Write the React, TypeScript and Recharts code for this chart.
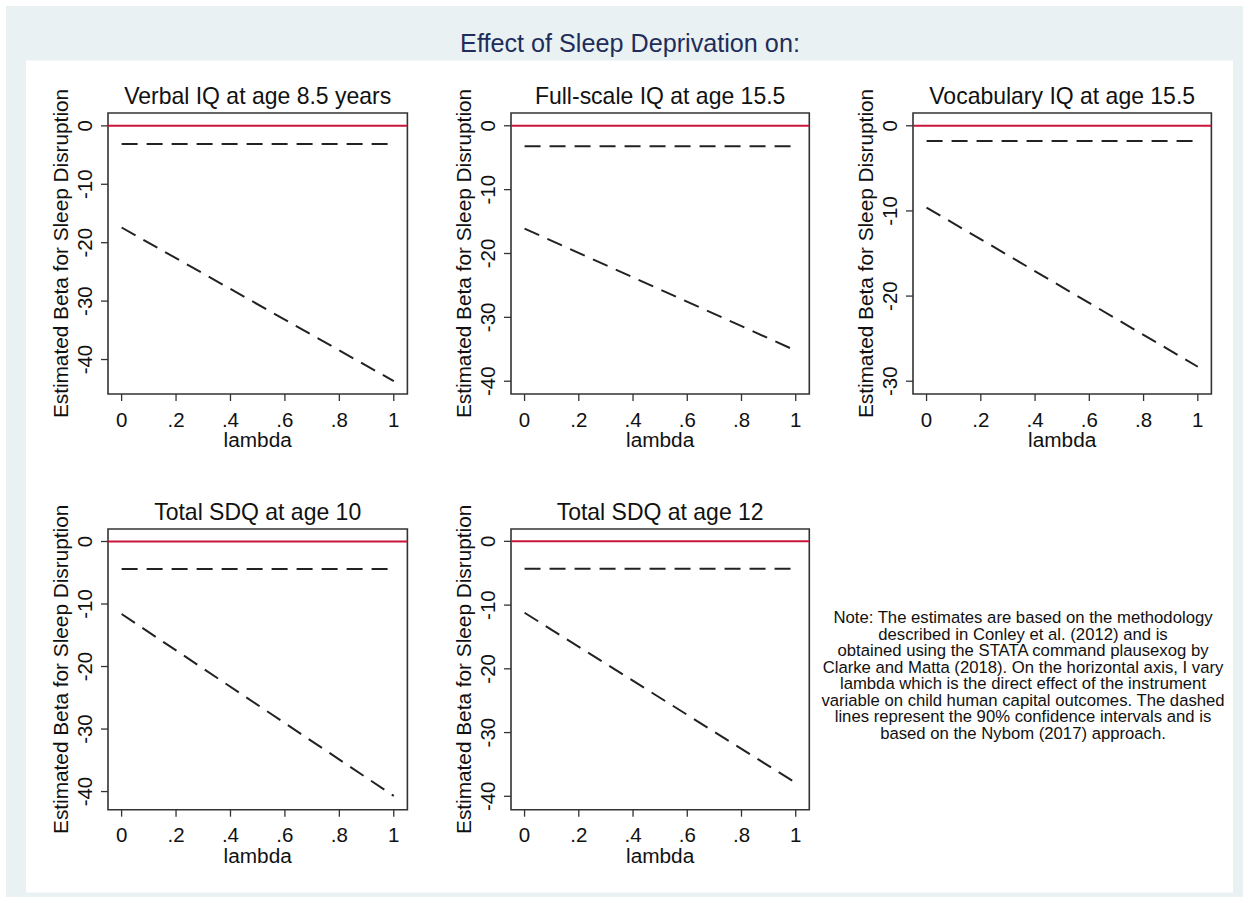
import React from "react";
import { LineChart, Line, XAxis, YAxis, ReferenceLine, ReferenceArea, Label } from "recharts";

const LAMBDA = [0, 1];
const X_TICKS = [0, 0.2, 0.4, 0.6, 0.8, 1];
const X_TICK_LABELS = ["0", ".2", ".4", ".6", ".8", "1"];
const Y_TICKS_40 = [-40, -30, -20, -10, 0];
const Y_TICKS_30 = [-30, -20, -10, 0];

const TITLES = [
  "Verbal IQ at age 8.5 years",
  "Full-scale IQ at age 15.5",
  "Vocabulary IQ at age 15.5",
  "Total SDQ at age 10",
  "Total SDQ at age 12",
];

const UPPER_VERBAL = [-3.1, -3.1];
const LOWER_VERBAL = [-17.4, -43.7];
const UPPER_FULL = [-3.2, -3.2];
const LOWER_FULL = [-16.1, -35.2];
const UPPER_VOCAB = [-1.8, -1.8];
const LOWER_VOCAB = [-9.6, -28.3];
const UPPER_SDQ10 = [-4.4, -4.4];
const LOWER_SDQ10 = [-11.6, -40.7];
const UPPER_SDQ12 = [-4.3, -4.3];
const LOWER_SDQ12 = [-11.2, -37.9];

const NOTE_LINES = [
  "Note: The estimates are based on the methodology",
  "described in Conley et al. (2012) and is",
  "obtained using the STATA command plausexog by",
  "Clarke and Matta (2018). On the horizontal axis, I vary",
  "lambda which is the direct effect of the instrument",
  "variable on child human capital outcomes. The dashed",
  "lines represent the 90% confidence intervals and is",
  "based on the Nybom (2017) approach.",
];

const MAIN_TITLE = "Effect of Sleep Deprivation on:";
const Y_TITLE = "Estimated Beta for Sleep Disruption";
const X_TITLE = "lambda";

const FONT = "'Liberation Sans', Arial, Helvetica, sans-serif";
const X_DOMAIN: [number, number] = [-0.05, 1.05];
const RED = "#c8153a";
const DARK = "#333333";
const LINE_DARK = "#222222";

const YW = 60;
const MT = 40;
const MR = 10;
const XH = 60;
const MB = 5;

function makeData(upper: number[], lower: number[]) {
  return LAMBDA.map((l, i) => ({ lambda: l, upper: upper[i], lower: lower[i] }));
}

const YTick = (props: any) => {
  const { x, y, payload } = props;
  return (
    <text
      x={x}
      y={y}
      transform={`rotate(-90 ${x} ${y})`}
      textAnchor="middle"
      fontSize={20.5}
      fill="#111"
      fontFamily={FONT}
    >
      {String(payload.value)}
    </text>
  );
};

type PanelProps = {
  title: string;
  data: any[];
  yDomain: [number, number];
  yTicks: number[];
  plotLeft: number;
  plotTop: number;
  plotW: number;
  plotH: number;
};

function Panel({ title, data, yDomain, yTicks, plotLeft, plotTop, plotW, plotH }: PanelProps) {
  return (
    <div style={{ position: "absolute", left: plotLeft - YW, top: plotTop - MT }}>
      <LineChart
        width={YW + plotW + MR}
        height={MT + plotH + XH + MB}
        data={data}
        margin={{ top: MT, right: MR, bottom: MB, left: 0 }}
        style={{ overflow: "visible" }}
      >
        <XAxis
          dataKey="lambda"
          type="number"
          domain={X_DOMAIN}
          ticks={X_TICKS}
          tickFormatter={(v: number) => X_TICK_LABELS[X_TICKS.indexOf(v)] ?? String(v)}
          height={XH}
          tickSize={7}
          tickMargin={11}
          axisLine={false}
          tickLine={{ stroke: DARK, strokeWidth: 1.3 }}
          tick={{ fill: "#111", fontSize: 20.5, fontFamily: FONT }}
          allowDataOverflow
          interval={0}
          label={
            <Label
              content={(p: any) => {
                const vb = p.viewBox || {};
                return (
                  <text
                    x={vb.x + vb.width / 2}
                    y={vb.y + 53.5}
                    textAnchor="middle"
                    fontSize={20.8}
                    fill="#111"
                    fontFamily={FONT}
                  >
                    {X_TITLE}
                  </text>
                );
              }}
            />
          }
        />
        <YAxis
          type="number"
          domain={yDomain}
          ticks={yTicks}
          width={YW}
          tickSize={7}
          tickMargin={9}
          axisLine={false}
          tickLine={{ stroke: DARK, strokeWidth: 1.3 }}
          tick={<YTick />}
          allowDataOverflow
          interval={0}
          label={
            <Label
              content={(p: any) => {
                const vb = p.viewBox || {};
                const x = vb.x + vb.width - 40.3;
                const y = vb.y + vb.height / 2;
                return (
                  <text
                    x={x}
                    y={y}
                    transform={`rotate(-90 ${x} ${y})`}
                    textAnchor="middle"
                    fontSize={20.8}
                    fill="#111"
                    fontFamily={FONT}
                  >
                    {Y_TITLE}
                  </text>
                );
              }}
            />
          }
        />
        <ReferenceArea
          x1={X_DOMAIN[0]}
          x2={X_DOMAIN[1]}
          y1={yDomain[0]}
          y2={yDomain[1]}
          fill="none"
          fillOpacity={0}
          stroke={DARK}
          strokeWidth={1.6}
          ifOverflow="visible"
          label={
            <Label
              content={(p: any) => {
                const vb = p.viewBox || {};
                return (
                  <text
                    x={vb.x + vb.width / 2}
                    y={vb.y - 9.3}
                    textAnchor="middle"
                    fontSize={23}
                    fill="#111"
                    fontFamily={FONT}
                  >
                    {title}
                  </text>
                );
              }}
            />
          }
        />
        <ReferenceLine y={0} stroke={RED} strokeWidth={2} />
        <Line
          dataKey="upper"
          type="linear"
          stroke={LINE_DARK}
          strokeWidth={2}
          strokeDasharray="16 9"
          dot={false}
          activeDot={false}
          isAnimationActive={false}
        />
        <Line
          dataKey="lower"
          type="linear"
          stroke={LINE_DARK}
          strokeWidth={2}
          strokeDasharray="16 9"
          dot={false}
          activeDot={false}
          isAnimationActive={false}
        />
      </LineChart>
    </div>
  );
}

export default function App() {
  const noteTop = 623;
  const noteStep = 16.5;
  return (
    <div style={{ position: "absolute", left: 0, top: 0, width: 1249, height: 903, background: "#ffffff", fontFamily: FONT }}>
      <svg width={1249} height={903} style={{ position: "absolute", left: 0, top: 0 }}>
        <rect x={6} y={6} width={1237} height={891} fill="#e9f1f3" />
        <rect x={26} y={60.5} width={1207} height={832} fill="#ffffff" />
        <text x={630} y={51.5} textAnchor="middle" fontSize={25.2} fill="#1f2d5a" fontFamily={FONT}>
          {MAIN_TITLE}
        </text>
        {NOTE_LINES.map((line, i) => (
          <text
            key={i}
            x={1023}
            y={noteTop + i * noteStep}
            textAnchor="middle"
            fontSize={16.7}
            fill="#111"
            fontFamily={FONT}
          >
            {line}
          </text>
        ))}
      </svg>
      <Panel title={TITLES[0]} data={makeData(UPPER_VERBAL, LOWER_VERBAL)} yDomain={[-45.9, 2.2]} yTicks={Y_TICKS_40} plotLeft={108.3} plotTop={113.3} plotW={299.4} plotH={281} />
      <Panel title={TITLES[1]} data={makeData(UPPER_FULL, LOWER_FULL)} yDomain={[-42, 2.0]} yTicks={Y_TICKS_40} plotLeft={511} plotTop={113.3} plotW={298.3} plotH={281} />
      <Panel title={TITLES[2]} data={makeData(UPPER_VOCAB, LOWER_VOCAB)} yDomain={[-31.5, 1.5]} yTicks={Y_TICKS_30} plotLeft={913.3} plotTop={113.3} plotW={298.4} plotH={281} />
      <Panel title={TITLES[3]} data={makeData(UPPER_SDQ10, LOWER_SDQ10)} yDomain={[-42.9, 2.0]} yTicks={Y_TICKS_40} plotLeft={108.3} plotTop={529.3} plotW={299.4} plotH={280.7} />
      <Panel title={TITLES[4]} data={makeData(UPPER_SDQ12, LOWER_SDQ12)} yDomain={[-42.1, 1.94]} yTicks={Y_TICKS_40} plotLeft={511} plotTop={529.3} plotW={298.3} plotH={280.7} />
    </div>
  );
}
